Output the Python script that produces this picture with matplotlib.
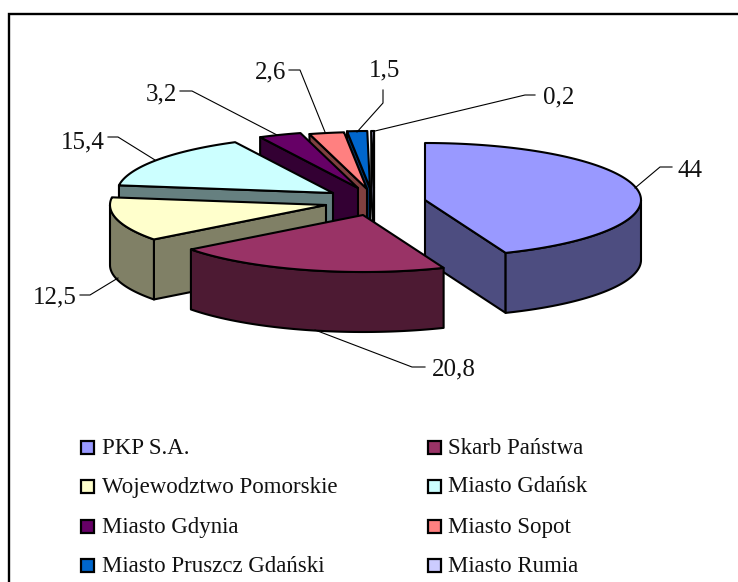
import numpy as np
import matplotlib
matplotlib.use("Agg")
import matplotlib.pyplot as plt
from matplotlib.patches import Polygon, Rectangle

# --- data ---
categories = ["PKP S.A.", "Skarb Państwa", "Wojewodztwo Pomorskie", "Miasto Gdańsk",
              "Miasto Gdynia", "Miasto Sopot", "Miasto Pruszcz Gdański", "Miasto Rumia"]
values = [44, 20.8, 12.5, 15.4, 3.2, 2.6, 1.5, 0.2]
value_labels = ["44", "20,8", "12,5", "15,4", "3,2", "2,6", "1,5", "0,2"]

# --- style / layout ---
top_colors = ["#9999FF", "#993366", "#FFFFCC", "#CCFFFF", "#660066", "#FF8080", "#0066CC", "#CCCCFF"]
side_colors = ["#4D4D80", "#4D1A33", "#808066", "#668080", "#330033", "#804040", "#003366", "#666680"]
RX, RY, DEPTH = 216, 57, 60
hubs = [(425, 200), (363, 215), (326, 205), (333, 193), (358, 188), (367, 189), (370, 188), (374, 188)]
draw_order = [7, 6, 5, 4, 3, 2, 0, 1]
leaders = [[(635, 188), (660, 167), (672, 167)],
           [(315, 330), (412, 367), (425, 367)],
           [(118, 278), (90, 295), (80, 295)],
           [(155, 160), (118, 137), (108, 137)],
           [(277, 135), (192, 91), (180, 91)],
           [(325, 132), (300, 70), (289, 70)],
           [(357, 132), (383, 103), (383, 90)],
           [(375, 131), (525, 95), (535, 95)]]
label_pos = [(677, 171, "left"), (432, 369, "left"), (77, 297, "right"), (105, 142, "right"),
             (177, 94, "right"), (286, 72, "right"), (369, 70, "left"), (543, 97, "left")]
legend_x = [(81, 102), (428, 448)]
legend_y = [447, 486, 526, 565]
SERIF = "Liberation Serif"

fig = plt.figure(figsize=(7.38, 5.82), dpi=100)
ax = fig.add_axes([0, 0, 1, 1])
ax.set_xlim(0, 738)
ax.set_ylim(582, 0)
ax.axis("off")

# frame of the picture: only its left and top sides are inside the crop
ax.add_patch(Rectangle((9, 13.5), 800, 650, fc="white", ec="black", lw=1.7, zorder=0, clip_on=True))

vals = np.array(values, dtype=float)
edges = np.concatenate([[0], np.cumsum(vals)]) / vals.sum() * 2 * np.pi


def rim(theta, hub):
    return np.column_stack([hub[0] + RX * np.sin(theta), hub[1] - RY * np.cos(theta)])


z = 1
for i in draw_order:
    hub = np.array(hubs[i], dtype=float)
    t0, t1 = edges[i], edges[i + 1]
    th = np.linspace(t0, t1, 120)
    arc = rim(th, hub)
    down = np.array([0, DEPTH])
    kw = dict(fc=side_colors[i], ec="black", lw=1.5, joinstyle="round")
    if np.sin(t1) > 0:   # closing radial face looks towards the viewer
        ax.add_patch(Polygon([hub, arc[-1], arc[-1] + down, hub + down], zorder=z, **kw)); z += 1
    if np.sin(t0) < 0:   # opening radial face looks towards the viewer
        ax.add_patch(Polygon([hub, arc[0], arc[0] + down, hub + down], zorder=z, **kw)); z += 1
    lo, hi = max(t0, np.pi / 2), min(t1, 1.5 * np.pi)
    if hi > lo:
        f = rim(np.linspace(lo, hi, 120), hub)
        ax.add_patch(Polygon(np.vstack([f, (f + down)[::-1]]), zorder=z, **kw)); z += 1
    ax.add_patch(Polygon(np.vstack([hub, arc]), fc=top_colors[i], ec="black", lw=1.5,
                         joinstyle="round", zorder=z)); z += 1

for pts, lab, (x, y, ha) in zip(leaders, value_labels, label_pos):
    p = np.array(pts)
    ax.plot(p[:, 0], p[:, 1], color="black", lw=0.8, zorder=100)
    ax.text(x, y, lab, ha=ha, va="center", family=SERIF, fontsize=18, color="#111111", zorder=101)

for k, (name, col) in enumerate(zip(categories, top_colors)):
    mx, tx = legend_x[k % 2]
    y = legend_y[k // 2]
    ax.add_patch(Rectangle((mx, y - 6), 12.5, 12.5, fc=col, ec="black", lw=1.6, zorder=100))
    ax.text(tx, y + 1, name, ha="left", va="center", family=SERIF, fontsize=16.5, color="#111111", zorder=101)

fig.savefig("out.png", dpi=100)
